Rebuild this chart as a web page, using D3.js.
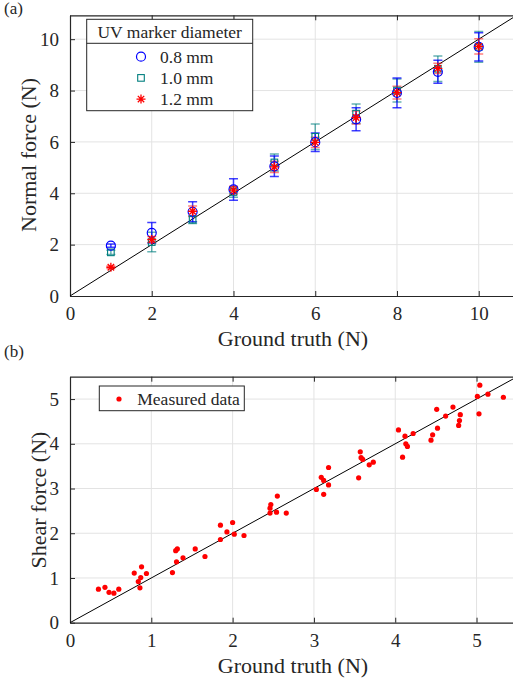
<!DOCTYPE html>
<html><head><meta charset="utf-8">
<script src="https://cdn.jsdelivr.net/npm/d3@7"></script>
<style>body{margin:0;background:#fff;}</style>
</head><body><svg id="c" width="513" height="682" font-family="Liberation Serif"></svg>
<script>
// ---- data: panel (a) ----
const groundTruthA = [1,2,3,4,5,6,7,8,9,10];
const blueMean = [1.96,2.46,3.28,4.15,5.05,5.99,6.88,7.91,8.73,9.70];
const blueErr  = [0.06,0.40,0.39,0.42,0.40,0.36,0.45,0.58,0.45,0.55];
const tealMean = [1.70,2.10,2.97,4.05,5.20,6.20,7.10,8.00,8.85,9.70];
const tealErr  = [0.08,0.38,0.15,0.20,0.33,0.50,0.38,0.45,0.50,0.60];
const redMean  = [1.12,2.20,3.30,4.12,5.03,5.98,6.95,7.92,8.86,9.72];
const redErr   = [0.05,0.12,0.20,0.15,0.22,0.20,0.25,0.25,0.20,0.30];
const legendLabelsA = ["0.8 mm","1.0 mm","1.2 mm"];
const xTicksA = [0,2,4,6,8,10];
const yTicksA = [0,2,4,6,8,10];
// ---- data: panel (b) ----
const shearX = [0.35,0.43,0.48,0.54,0.60,0.79,0.88,0.87,0.94,0.84,0.86,1.26,1.31,1.39,1.30,1.32,1.54,1.66,
  1.85,1.85,1.93,2.00,2.02,2.14,2.46,2.46,2.47,2.55,2.54,2.66,
  3.03,3.09,3.12,3.12,3.18,3.18,3.55,3.57,3.58,3.60,3.68,3.73,
  4.04,4.09,4.12,4.13,4.15,4.22,4.44,4.46,4.51,4.52,4.62,4.71,4.78,4.79,4.80,5.01,5.03,5.04,5.14,5.33];
const shearY = [0.75,0.79,0.68,0.66,0.75,1.11,1.25,1.01,1.10,0.92,0.78,1.12,1.36,1.45,1.61,1.65,1.65,1.48,
  2.18,1.86,2.03,2.24,1.98,1.95,2.45,2.56,2.64,2.83,2.47,2.45,
  2.98,3.25,3.18,2.87,3.47,3.08,3.24,3.82,3.69,3.65,3.53,3.59,
  4.31,3.70,4.17,4.00,3.94,4.23,4.08,4.20,4.77,4.35,4.62,4.82,4.41,4.52,4.65,5.06,4.67,5.31,5.11,5.04];
const xTicksB = [0,1,2,3,4,5];
const yTicksB = [0,1,2,3,4,5];

const svg = d3.select("#c");
const AX = "#262626", GRID = "#e3e3e3", FONT = "Liberation Serif";

function txt(sel){ return sel.append("text").attr("font-family",FONT).attr("fill",AX); }

function panel(o){
  const g = svg.append("g");
  const x = d3.scaleLinear().domain(o.xd).range(o.xr);
  const y = d3.scaleLinear().domain(o.yd).range(o.yr);
  const id = "clip"+o.name;
  svg.append("clipPath").attr("id",id).append("rect")
    .attr("x",o.xr[0]).attr("y",o.yr[1]).attr("width",o.xr[1]-o.xr[0]).attr("height",o.yr[0]-o.yr[1]);
  g.selectAll(".gx").data(o.xt.filter(d=>d>0)).join("line")
    .attr("x1",d=>x(d)).attr("x2",d=>x(d)).attr("y1",o.yr[0]).attr("y2",o.yr[1])
    .attr("stroke",GRID).attr("stroke-width",1);
  g.selectAll(".gy").data(o.yt.filter(d=>d>0)).join("line")
    .attr("y1",d=>y(d)).attr("y2",d=>y(d)).attr("x1",o.xr[0]).attr("x2",o.xr[1])
    .attr("stroke",GRID).attr("stroke-width",1);
  const fmt = d3.format("d");
  const xa = d3.axisBottom(x).tickValues(o.xt).tickFormat(fmt).tickSizeInner(-5).tickSizeOuter(0).tickPadding(11);
  const ya = d3.axisLeft(y).tickValues(o.yt).tickFormat(fmt).tickSizeInner(-5).tickSizeOuter(0).tickPadding(11);
  const xg = g.append("g").attr("transform",`translate(0,${o.yr[0]})`).call(xa);
  const yg = g.append("g").attr("transform",`translate(${o.xr[0]},0)`).call(ya);
  const xtop = g.append("g").attr("transform",`translate(0,${o.yr[1]})`).call(d3.axisTop(x).tickValues(o.xt).tickSizeInner(-5).tickSizeOuter(0).tickFormat(""));
  [xg,yg,xtop].forEach(a=>{
    a.attr("font-family",FONT).attr("font-size",19);
    a.select(".domain").attr("stroke",AX).attr("stroke-width",1.2);
    a.selectAll(".tick line").attr("stroke",AX);
    a.selectAll("text").attr("font-family",FONT).attr("font-size",19).attr("fill",AX);});
  xg.selectAll("text").attr("dy","0.71em");
  txt(g).attr("x",o.xlabX).attr("y",o.xlabY).attr("text-anchor","middle").attr("font-size",22).text("Ground truth (N)");
  txt(g).attr("transform",`translate(${o.ylabX},${o.ylabY}) rotate(-90)`).attr("text-anchor","middle").attr("font-size",22).text(o.ylab);
  txt(g).attr("x",4).attr("y",o.tagY).attr("font-size",17).text(o.tag);
  const plot = svg.append("g").attr("clip-path",`url(#${id})`);
  return {x,y,plot,g};
}

// ---------- panel (a) ----------
const A = panel({name:"a",xd:[0,11],xr:[70,519.6],yd:[0,10.93],yr:[296,15.3],xt:xTicksA,yt:yTicksA,
  xlabX:293,xlabY:346,ylabX:36,ylabY:155,ylab:"Normal force (N)",tag:"(a)",tagY:14});
A.plot.append("line").attr("x1",A.x(0)).attr("y1",A.y(0)).attr("x2",A.x(11)).attr("y2",A.y(11)).attr("stroke","#000").attr("stroke-width",1);

const series = [
  {mean:tealMean,err:tealErr,color:"#007f7f",op:0.6,shape:"square"},
  {mean:blueMean,err:blueErr,color:"#0000ff",op:0.75,shape:"circle"},
  {mean:redMean,err:redErr,color:"#ff0000",op:0.5,shape:"star"}
];
function drawMarker(sel,shape,color){
  if(shape==="circle") sel.append("circle").attr("r",4.5).attr("fill","none").attr("stroke",color).attr("stroke-width",1.2);
  else if(shape==="square") sel.append("rect").attr("x",-3.3).attr("y",-3.3).attr("width",6.6).attr("height",6.6).attr("fill","none").attr("stroke",color).attr("stroke-width",1.1);
  else sel.append("path").attr("d","M-4.5,0H4.5M0,-4.5V4.5M-3.2,-3.2L3.2,3.2M-3.2,3.2L3.2,-3.2").attr("stroke",color).attr("stroke-width",1.3).attr("fill","none");
}
series.forEach(s=>{
  const eg = A.plot.append("g").attr("stroke",s.color).attr("stroke-opacity",s.op).attr("stroke-width",1.5);
  groundTruthA.forEach((gt,i)=>{
    const cx=A.x(gt), y1=A.y(s.mean[i]-s.err[i]), y2=A.y(s.mean[i]+s.err[i]);
    eg.append("line").attr("x1",cx).attr("x2",cx).attr("y1",y1).attr("y2",y2);
    eg.append("line").attr("x1",cx-4.5).attr("x2",cx+4.5).attr("y1",y1).attr("y2",y1);
    eg.append("line").attr("x1",cx-4.5).attr("x2",cx+4.5).attr("y1",y2).attr("y2",y2);
  });
});
series.forEach(s=>{
  groundTruthA.forEach((gt,i)=>{
    drawMarker(A.plot.append("g").attr("transform",`translate(${A.x(gt)},${A.y(s.mean[i])})`),s.shape,s.color);
  });
});
const la = svg.append("g");
la.append("rect").attr("x",86.7).attr("y",19.3).attr("width",166).attr("height",91.4).attr("fill","#fff").attr("stroke",AX).attr("stroke-width",1);
la.append("line").attr("x1",86.7).attr("x2",252.7).attr("y1",43.3).attr("y2",43.3).attr("stroke",AX).attr("stroke-width",1);
txt(la).attr("x",169.7).attr("y",38).attr("text-anchor","middle").attr("font-size",17.5).text("UV marker diameter");
const legOrder = [series[1],series[0],series[2]];
legOrder.forEach((s,i)=>{
  const yy = 56.7 + i*21.2;
  drawMarker(la.append("g").attr("transform",`translate(141,${yy})`),s.shape,s.color);
  txt(la).attr("x",160).attr("y",yy+6).attr("font-size",17.5).text(legendLabelsA[i]);
});

// ---------- panel (b) ----------
const B = panel({name:"b",xd:[0,5.5],xr:[70,517.2],yd:[0,5.5],yr:[622.7,376.7],xt:xTicksB,yt:yTicksB,
  xlabX:293,xlabY:673,ylabX:46,ylabY:500,ylab:"Shear force (N)",tag:"(b)",tagY:357});
B.plot.append("line").attr("x1",B.x(0)).attr("y1",B.y(0)).attr("x2",B.x(5.5)).attr("y2",B.y(5.5)).attr("stroke","#000").attr("stroke-width",1);
B.plot.selectAll(".pt").data(shearX.map((v,i)=>[v,shearY[i]])).join("circle")
  .attr("cx",d=>B.x(d[0])).attr("cy",d=>B.y(d[1])).attr("r",2.6).attr("fill","#ff0000");
const lb = svg.append("g");
lb.append("rect").attr("x",99.3).attr("y",386).attr("width",145).attr("height",24.7).attr("fill","#fff").attr("stroke",AX).attr("stroke-width",1);
lb.append("circle").attr("cx",119).attr("cy",399).attr("r",2.6).attr("fill","#ff0000");
txt(lb).attr("x",137.3).attr("y",405).attr("font-size",17.5).text("Measured data");
</script></body></html>
